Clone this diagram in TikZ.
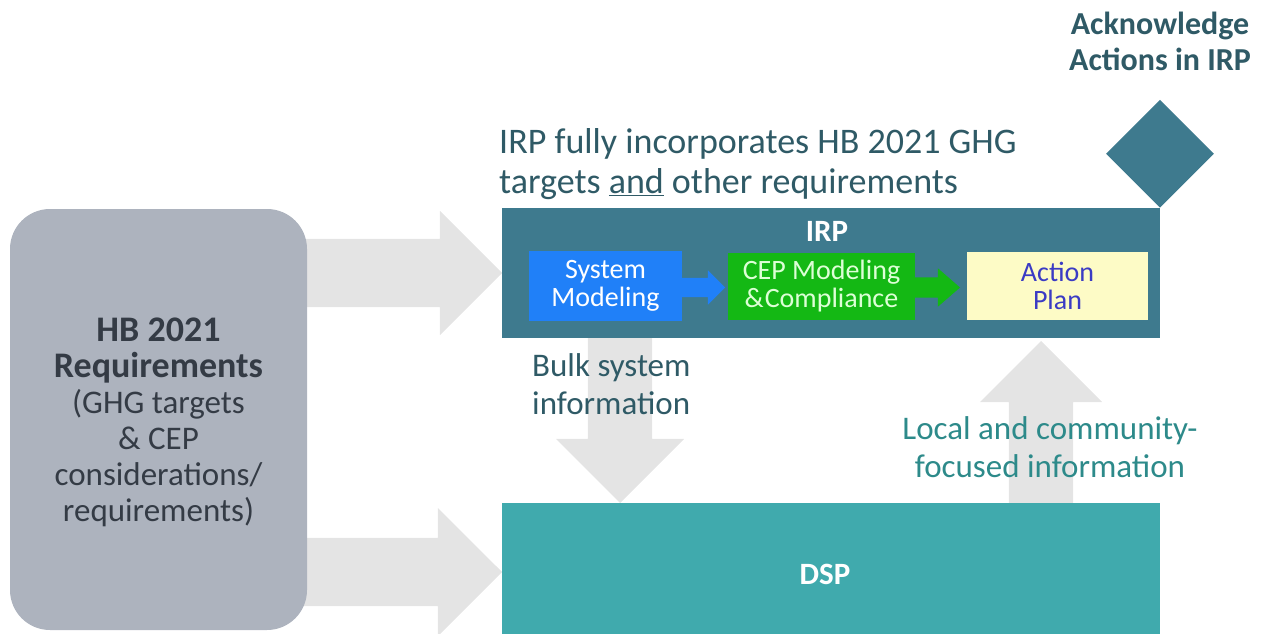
\documentclass[tikz,border=0pt]{standalone}
\usepackage{fontspec}
\setmainfont{Carlito}
\usetikzlibrary{shapes.arrows,shapes.geometric,backgrounds}

\definecolor{irpcol}{HTML}{3E7A8E}
\definecolor{dspcol}{HTML}{40AAAD}
\definecolor{reqcol}{HTML}{ADB3BE}
\definecolor{flowgray}{HTML}{E4E4E4}
\definecolor{sysblue}{HTML}{2080F8}
\definecolor{cepgreen}{HTML}{14B814}
\definecolor{cepgreentext}{HTML}{DDFFD6}
\definecolor{planyellow}{HTML}{FDFBC6}
\definecolor{plantext}{HTML}{3B3BC4}
\definecolor{slate}{HTML}{2F5A66}
\definecolor{tealtext}{HTML}{2D8A8A}
\definecolor{reqtext}{HTML}{343B45}

\newcommand{\fsz}[2]{\fontsize{#1}{#2}\selectfont}

\tikzset{
  block/.style={draw=none, inner sep=0pt, outer sep=0pt},
  flow/.style={single arrow, fill=flowgray, draw=none, inner xsep=0pt, outer sep=0pt,
    single arrow tip angle=90, single arrow head indent=0pt, minimum width=0pt},
  stepflow/.style={single arrow, draw=none, inner xsep=0pt, outer sep=0pt,
    single arrow head indent=0pt, minimum width=0pt},
  stagebox/.style={block, align=center, font=\fsz{28}{28}},
  caption/.style={inner sep=0pt, font=\fsz{33}{38}}
}

\begin{document}
\begin{tikzpicture}[x=1pt, y=-1pt]
\useasboundingbox (0,0) rectangle (1267,634);

% main containers
\node[block, fill=irpcol, minimum width=658, minimum height=130] (irp) at (831,273) {};
\node[block, fill=dspcol, minimum width=658, minimum height=138] (dsp) at (831,572) {};
\node[block, fill=reqcol, rounded corners=40, minimum width=297, minimum height=421] (req) at (158.5,419.5) {};

% diamond marker on the IRP corner
\node[diamond, fill=irpcol, inner sep=0pt, minimum width=108, minimum height=108,
      anchor=south] (ack) at (irp.north east) {};

% wide gray flows behind the containers
\begin{scope}[on background layer]
  \node[flow, inner ysep=34, minimum height=200, single arrow head extend=28,
        anchor=tip] (toirp) at (irp.west |- 0,273) {};
  \node[flow, inner ysep=34, minimum height=200, single arrow head extend=30,
        anchor=tip] (todsp) at (dsp.west |- 0,572) {};
  \node[flow, rotate=-90, inner ysep=32, minimum height=165, single arrow head extend=32,
        anchor=tip] (bulk) at (dsp.north -| 620,0) {};
  \node[flow, rotate=90, inner ysep=32, minimum height=163, single arrow head extend=29,
        anchor=tip] (local) at ([yshift=-3]irp.south -| 1041,0) {};
\end{scope}

% IRP stages
\node[stagebox, fill=sysblue, text=white, minimum width=153, minimum height=70] (sys) at (605.5,286) {System\\Modeling};
\node[stagebox, fill=cepgreen, text=cepgreentext, minimum width=187, minimum height=67] (cep) at (821.5,286.5) {CEP Modeling\\\&\kern1pt Compliance};
\node[stagebox, fill=planyellow, text=plantext, minimum width=181, minimum height=68] (plan) at (1057.5,286) {Action\\Plan};

\node[stepflow, fill=sysblue, inner ysep=9.5, minimum height=43, single arrow head extend=7.5,
      single arrow tip angle=90, anchor=tail] (s2c) at (sys.east |- 0,287.5) {};
\node[stepflow, fill=cepgreen, inner ysep=10, minimum height=45, single arrow head extend=9,
      single arrow tip angle=82, anchor=tail] (c2p) at (cep.east |- 0,287.5) {};

% labels
\node[text=white, font=\bfseries\fsz{31}{34}, inner sep=0pt] (irplabel) at (827,231) {IRP};
\node[text=white, font=\bfseries\fsz{31}{34}, inner sep=0pt] (dsplabel) at (825,574) {DSP};

\node[text=reqtext, align=center, inner sep=0pt, font=\fsz{33}{36}] (reqtext) at (158.5,422)
  {\bfseries\fsz{36}{36}HB 2021\\\bfseries\fsz{36}{36}Requirements\\
   (GHG targets\\\& CEP\\considerations/\\requirements)};

\node[caption, text=slate, align=left, anchor=west, font=\fsz{36}{40}] (note) at (499,164)
  {IRP fully incorporates HB 2021 GHG\\targets \underline{and} other requirements};

\node[text=slate, align=center, inner sep=0pt, font=\bfseries\fsz{32}{36}] (acklabel) at (1160,41)
  {Acknowledge\\Actions in IRP};

\node[caption, text=slate, align=left, anchor=west] (bulklabel) at (532,384)
  {Bulk system\\information};

\node[caption, text=tealtext, align=center] (locallabel) at (1050,447)
  {Local and community-\\focused information};

\end{tikzpicture}
\end{document}
